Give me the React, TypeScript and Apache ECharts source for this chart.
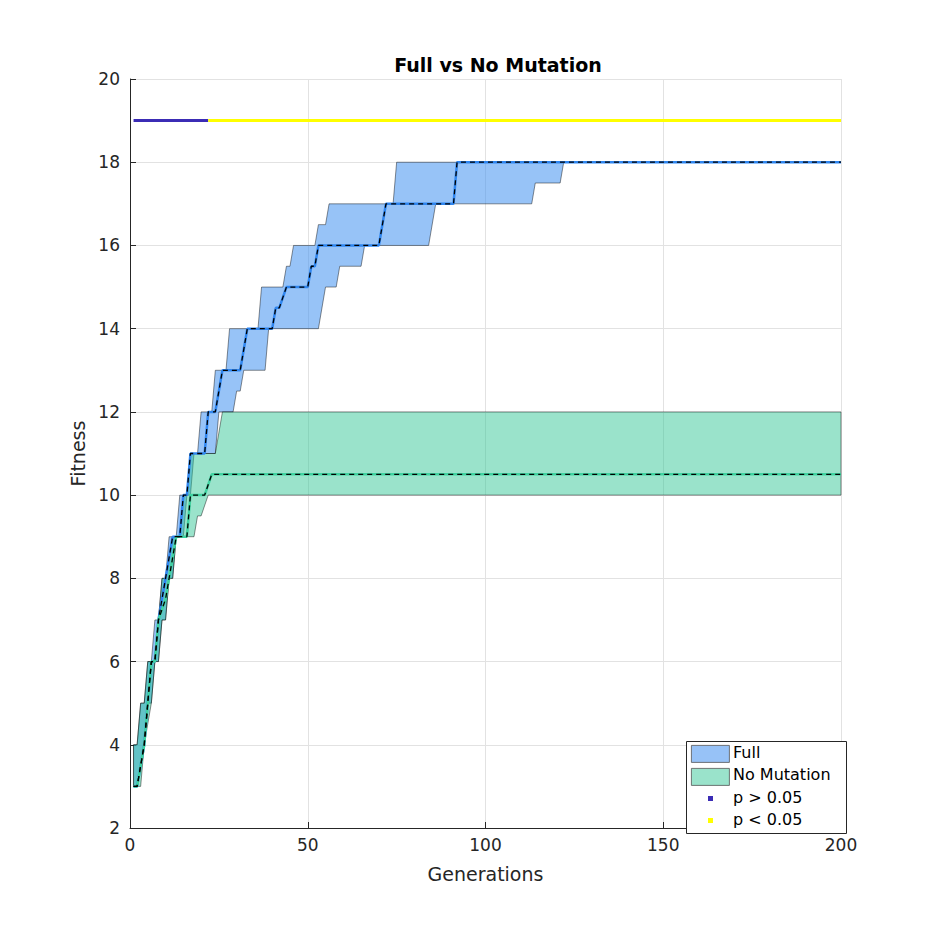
import { useEffect, useRef } from 'react';
import * as echarts from 'echarts';

// vertices [generation, fitness]
const fullUpper = [[1,4],[2,4],[3,5],[4,5],[5,6],[6,6],[7,7],[8,7],[9,8],[10,8],[11,9],[13,9],[14,10],[16,10],[17,11],[19,11],[20,12],[23,12],[24,13],[27,13],[28,14],[36,14],[37,15],[43,15],[44,15.5],[45,15.5],[46,16],[52,16],[53,16.5],[55,16.5],[56,17],[74,17],[75,18],[200,18]];
const fullLower = [[1,3],[2,3],[4,4],[5,5],[6,5],[7,6],[8,6],[9,7],[10,7],[11,8],[12,8],[13,9],[15,9],[16,10],[17,10],[18,11],[24,11],[25,12],[29,12],[30,12.5],[31,12.5],[32,13],[38,13],[39,14],[53,14],[55,15],[58,15],[59,15.5],[65,15.5],[66,16],[84,16],[86,17],[113,17],[114,17.5],[121,17.5],[122,18],[200,18]];
const fullMedian = [[1,3],[2,3],[4,4],[5,5],[6,6],[7,6],[8,7],[9,7.5],[10,8],[11,8.5],[12,9],[14,9],[15,10],[16,10],[17,11],[21,11],[22,12],[24,12],[26,13],[31,13],[33,14],[40,14],[41,14.5],[42,14.5],[44,15],[50,15],[51,15.5],[52,15.5],[53,16],[70,16],[72,17],[91,17],[92,18],[200,18]];
const noMutUpper = [[1,4],[2,4],[3,5],[4,5],[5,6],[7,6],[8,7],[9,8],[10,8],[12,9],[14,9],[15,10],[16,10],[17,11],[24,11],[26,12],[200,12]];
const noMutLower = [[1,3],[3,3],[4,4],[5,4.5],[6,5],[7,6],[8,6],[9,7],[10,7],[11,8],[12,8],[13,9],[18,9],[19,9.5],[20,9.5],[22,10],[200,10]];
const noMutMedian = [[1,3],[2,3],[4,4],[5,5],[6,6],[7,6],[8,7],[10,7.5],[11,8],[12,8.5],[13,9],[16,9],[17,10],[21,10],[23,10.5],[200,10.5]];
const pAbove = [[1,19],[22,19]];
const pBelow = [[22,19],[200,19]];

const FONT = 'DejaVu Sans';

function band(name: string, upper: number[][], lower: number[][], fill: string) {
  const poly = [...upper, ...[...lower].reverse()];
  return {
    name,
    type: 'custom',
    data: [[0, 0]],
    z: 2,
    renderItem: (_p: any, api: any) => ({
      type: 'polygon',
      shape: { points: poly.map((pt) => api.coord(pt)) },
      style: { fill, stroke: 'rgba(0,0,0,0.55)', lineWidth: 0.8 },
    }),
  };
}

function median(data: number[][], color: string) {
  return [
    { type: 'line', data, symbol: 'none', z: 3, lineStyle: { color, width: 2.5 } },
    { type: 'line', data, symbol: 'none', z: 4, lineStyle: { color: '#000', width: 1.3, type: [5, 4] } },
  ];
}

export default function App() {
  const chartRef = useRef<HTMLDivElement>(null);

  useEffect(() => {
    if (!chartRef.current) return;
    const chart = echarts.init(chartRef.current, undefined, { renderer: 'svg' });
    const axisText = { color: '#262626', fontSize: 17, fontFamily: FONT };
    chart.setOption({
      animation: false,
      title: {
        text: 'Full vs No Mutation', left: 485, top: 42, textAlign: 'center',
        textStyle: { fontSize: 19, fontWeight: 'bold', fontFamily: FONT, color: '#000' },
      },
      grid: { left: 122, right: 90, top: 71, bottom: 105 },
      xAxis: {
        type: 'value', min: 0, max: 200, interval: 50,
        name: 'Generations', nameLocation: 'middle', nameGap: 36,
        nameTextStyle: { ...axisText, fontSize: 19 },
        axisLabel: { ...axisText, margin: 8 },
        axisLine: { onZero: false, lineStyle: { color: '#262626' } },
        axisTick: { inside: true, length: 6, lineStyle: { color: '#262626' } },
        splitLine: { lineStyle: { color: '#e2e2e2' } },
      },
      yAxis: {
        type: 'value', min: 2, max: 20, interval: 2,
        name: 'Fitness', nameLocation: 'middle', nameGap: 40,
        nameTextStyle: { ...axisText, fontSize: 19 },
        axisLabel: { ...axisText, margin: 10 },
        axisLine: { show: true, lineStyle: { color: '#262626' } },
        axisTick: { show: true, inside: true, length: 6, lineStyle: { color: '#262626' } },
        splitLine: { lineStyle: { color: '#e2e2e2' } },
      },
      series: [
        band('Full', fullUpper, fullLower, 'rgba(65,145,240,0.55)'),
        band('No Mutation', noMutUpper, noMutLower, 'rgba(40,195,145,0.47)'),
        ...median(fullMedian, '#2f86f0'),
        ...median(noMutMedian, '#3fd3a0'),
        { type: 'line', data: pAbove, symbol: 'none', z: 5, lineStyle: { color: '#3b2cb5', width: 3 } },
        { type: 'line', data: pBelow, symbol: 'none', z: 5, lineStyle: { color: '#ffff00', width: 3 } },
      ],
      graphic: [
        { type: 'rect', left: 678, top: 733, shape: { width: 160, height: 92 }, style: { fill: '#fff', stroke: '#262626', lineWidth: 1 }, z: 100 },
        { type: 'rect', left: 683, top: 737, shape: { width: 38, height: 17 }, style: { fill: '#97c2f7', stroke: '#555', lineWidth: 0.8 }, z: 101 },
        { type: 'rect', left: 683, top: 760, shape: { width: 38, height: 17 }, style: { fill: '#9ae3cb', stroke: '#555', lineWidth: 0.8 }, z: 101 },
        { type: 'rect', left: 700, top: 788, shape: { width: 5, height: 5 }, style: { fill: '#3b2cb5' }, z: 101 },
        { type: 'rect', left: 700, top: 810, shape: { width: 5, height: 5 }, style: { fill: '#ffff00' }, z: 101 },
        ...['Full', 'No Mutation', 'p > 0.05', 'p < 0.05'].map((t, i) => ({
          type: 'text', left: 725, top: 736 + i * 22.5, z: 101,
          style: { text: t, fontSize: 16, fontFamily: FONT, fill: '#000' },
        })),
      ],
    });
    return () => chart.dispose();
  }, []);

  return <div ref={chartRef} style={{ width: 923, height: 925 }} />;
}
